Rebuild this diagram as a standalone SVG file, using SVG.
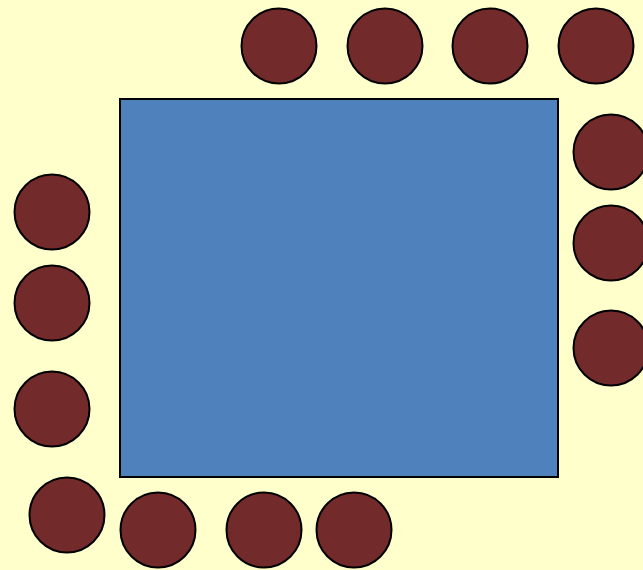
<svg xmlns="http://www.w3.org/2000/svg" width="643" height="570" viewBox="0 0 643 570">
<style>
.chair{fill:#722B2A;stroke:#000;stroke-width:2}
.table{fill:#4F81BD;stroke:#000;stroke-width:2}
</style>
<rect x="0" y="0" width="643" height="570" fill="#FFFFCC"/>
<rect id="table" class="table" x="120" y="99" width="438" height="378"/>
<g id="chairs">
<circle class="chair" cx="279" cy="46" r="37.5"/>
<circle class="chair" cx="385" cy="46" r="37.5"/>
<circle class="chair" cx="490" cy="46" r="37.5"/>
<circle class="chair" cx="596" cy="46" r="37.5"/>
<circle class="chair" cx="611" cy="152" r="37.5"/>
<circle class="chair" cx="611" cy="243" r="37.5"/>
<circle class="chair" cx="611" cy="348" r="37.5"/>
<circle class="chair" cx="52" cy="212" r="37.5"/>
<circle class="chair" cx="52" cy="303" r="37.5"/>
<circle class="chair" cx="52" cy="409" r="37.5"/>
<circle class="chair" cx="67" cy="515" r="37.5"/>
<circle class="chair" cx="158" cy="530" r="37.5"/>
<circle class="chair" cx="264" cy="530" r="37.5"/>
<circle class="chair" cx="354" cy="530" r="37.5"/>
</g>
</svg>
